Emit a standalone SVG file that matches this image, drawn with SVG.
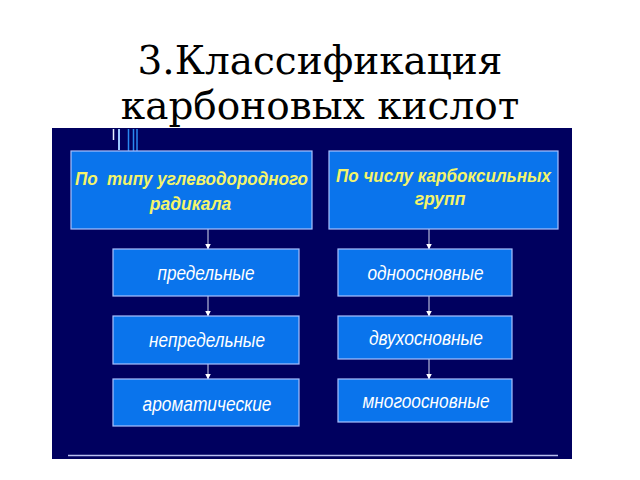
<svg xmlns="http://www.w3.org/2000/svg" width="640" height="480" viewBox="0 0 640 480">
<defs>
<style>
.title{font-family:"DejaVu Serif",serif;font-size:39px;fill:#000;text-anchor:middle}
.box{fill:#0a74ec;stroke:#a9c2ff;stroke-width:1.2}
.hd{font-family:"Liberation Sans",Arial,sans-serif;font-size:17.5px;font-weight:bold;font-style:italic;fill:#f4f46a;text-anchor:middle}
.it{font-family:"Liberation Sans",Arial,sans-serif;font-size:20px;font-style:italic;fill:#ffffff;text-anchor:middle}
.con{stroke:#d8dcf0;stroke-width:1;fill:none;marker-end:url(#ah)}
</style>
<marker id="ah" viewBox="0 0 6 6" refX="5.5" refY="3" markerWidth="6" markerHeight="6" markerUnits="userSpaceOnUse" orient="auto">
<path d="M0,0 L6,3 L0,6 Z" fill="#ffffff"/>
</marker>
</defs>
<rect width="640" height="480" fill="#ffffff"/>
<g id="title">
<text class="title" x="320" y="74">3.Классификация</text>
<text class="title" x="320" y="119">карбоновых кислот</text>
</g>
<g id="panel">
<rect x="52" y="128" width="520" height="331" fill="#00005f"/>
<line x1="68" y1="455.5" x2="558" y2="455.5" stroke="#b8bff0" stroke-width="1.5"/>
<line x1="113.5" y1="129" x2="113.5" y2="140" stroke="#e8f0ff" stroke-width="1.5"/>
<line x1="119" y1="129" x2="119" y2="150" stroke="#9cc8ff" stroke-width="2"/>
<line x1="128.5" y1="129" x2="128.5" y2="151" stroke="#2a88f0" stroke-width="1.5"/>
<line x1="133.5" y1="129" x2="133.5" y2="151" stroke="#2a88f0" stroke-width="1.5"/>
<line x1="137" y1="129" x2="137" y2="151" stroke="#2a88f0" stroke-width="1.5"/>
</g>
<g id="connectors">
<line class="con" x1="208" y1="229" x2="208" y2="249"/>
<line class="con" x1="208" y1="296" x2="208" y2="316"/>
<line class="con" x1="208" y1="364" x2="208" y2="379"/>
<line class="con" x1="429" y1="229" x2="429" y2="249"/>
<line class="con" x1="429" y1="296" x2="429" y2="316"/>
<line class="con" x1="429" y1="359" x2="429" y2="379"/>
</g>
<g id="n-type">
<rect class="box" x="71" y="151" width="241" height="78"/>
<text class="hd" x="191.5" y="185" xml:space="preserve" textLength="233" lengthAdjust="spacingAndGlyphs">По  типу углеводородного</text>
<text class="hd" x="190.5" y="210">радикала</text>
</g>
<g id="n-count">
<rect class="box" x="329" y="151" width="229" height="78"/>
<text class="hd" x="443.5" y="182" textLength="215" lengthAdjust="spacingAndGlyphs">По числу карбоксильных</text>
<text class="hd" x="440" y="205">групп</text>
</g>
<g id="n-pred">
<rect class="box" x="113" y="249" width="186" height="47"/>
<text class="it" x="206" y="280" textLength="97" lengthAdjust="spacingAndGlyphs">предельные</text>
</g>
<g id="n-nepred">
<rect class="box" x="113" y="316" width="186" height="48"/>
<text class="it" x="207" y="347" textLength="116" lengthAdjust="spacingAndGlyphs">непредельные</text>
</g>
<g id="n-arom">
<rect class="box" x="113" y="379" width="186" height="47"/>
<text class="it" x="207" y="411" textLength="129" lengthAdjust="spacingAndGlyphs">ароматические</text>
</g>
<g id="n-odno">
<rect class="box" x="338" y="249" width="174" height="47"/>
<text class="it" x="425.5" y="280" textLength="116" lengthAdjust="spacingAndGlyphs">одноосновные</text>
</g>
<g id="n-dvuh">
<rect class="box" x="338" y="316" width="174" height="43"/>
<text class="it" x="426" y="345" textLength="114" lengthAdjust="spacingAndGlyphs">двухосновные</text>
</g>
<g id="n-mnogo">
<rect class="box" x="338" y="379" width="174" height="43"/>
<text class="it" x="426" y="408" textLength="127" lengthAdjust="spacingAndGlyphs">многоосновные</text>
</g>
</svg>
